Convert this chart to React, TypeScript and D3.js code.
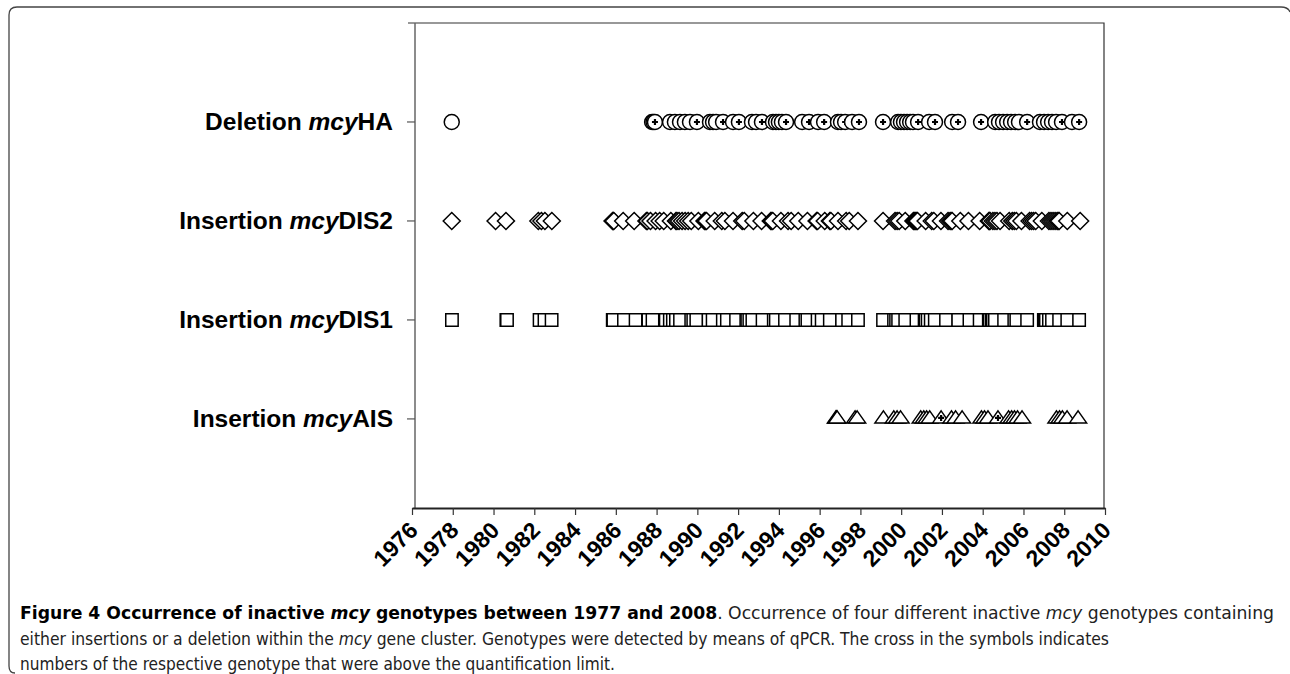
import { useEffect, useRef } from 'react';
import * as d3 from 'd3';

// rows from top to bottom; "mcy" is set in italics between prefix and suffix
const rowLevels = [4, 3, 2, 1];
const rowPrefixes = ['Deletion ', 'Insertion ', 'Insertion ', 'Insertion '];
const rowSuffixes = ['HA', 'DIS2', 'DIS1', 'AIS'];
const rowShapes = ['circle', 'diamond', 'square', 'triangle'];

const yearTicks = [1976, 1978, 1980, 1982, 1984, 1986, 1988, 1990, 1992, 1994, 1996, 1998, 2000, 2002, 2004, 2006, 2008, 2010];

// sampling dates (decimal years)
const deletionYears = [
  1977.95, 1987.78, 1987.85, 1988.66, 1988.9, 1989.15, 1989.39, 1989.64, 1990.62, 1990.77, 1990.92,
  1991.75, 1992.68, 1992.88, 1993.71, 1993.86, 1994.0, 1994.15, 1995.14, 1995.92, 1996.9, 1997.05,
  1997.59, 1999.85, 1999.99, 2000.14, 2000.29, 2000.44, 2000.58, 2001.37, 2002.5, 2004.61, 2004.8,
  2005.0, 2005.2, 2005.39, 2005.59, 2005.78, 2006.81, 2007.01, 2007.21, 2007.4, 2007.6, 2008.38,
];
const deletionCross = [
  1987.92, 1989.98, 1991.26, 1992.04, 1993.17, 1994.35, 1995.48, 1996.22, 1997.25, 1997.93, 1999.11,
  2000.83, 2001.66, 2002.79, 2003.92, 2006.18, 2007.89, 2008.73,
];
const dis2Years = [
  1977.95, 1980.1, 1980.61, 1982.2, 1982.35, 1982.52, 1982.86, 1985.84, 1985.87, 1985.9, 1986.36, 1986.9,
  1987.5, 1987.55, 1987.7, 1987.95, 1988.15, 1988.35, 1988.7, 1988.95, 1989.0, 1989.1, 1989.25, 1989.4,
  1989.55, 1989.7, 1990.05, 1990.35, 1990.4, 1990.45, 1990.85, 1991.2, 1991.35, 1991.75, 1992.2, 1992.3,
  1992.75, 1993.15, 1993.6, 1993.65, 1993.7, 1994.1, 1994.45, 1994.6, 1994.95, 1995.4, 1995.85, 1995.9,
  1996.25, 1996.5, 1996.55, 1996.9, 1997.3, 1997.45, 1997.88, 1999.11, 1999.7, 1999.8, 1999.9, 2000.2,
  2000.6, 2000.65, 2000.7, 2000.75, 2000.8, 2001.2, 2001.5, 2001.6, 2001.95, 2002.3, 2002.4, 2002.45,
  2002.5, 2002.9, 2003.3, 2003.85, 2004.3, 2004.33, 2004.36, 2004.5, 2004.6, 2004.7, 2004.85, 2005.3,
  2005.45, 2005.55, 2005.65, 2005.9, 2006.3, 2006.4, 2006.5, 2006.6, 2006.9, 2007.25, 2007.35, 2007.45,
  2007.55, 2007.65, 2007.7, 2007.75, 2008.15, 2008.78,
];
const dis1Years = [
  1977.96, 1980.63, 1980.66, 1982.26, 1982.5, 1982.85, 1985.85, 1985.88, 1986.4, 1986.97, 1987.6, 1987.8,
  1988.45, 1988.65, 1988.8, 1988.95, 1989.15, 1989.7, 1989.8, 1989.95, 1990.55, 1990.75, 1991.25, 1991.45,
  1991.9, 1992.4, 1992.45, 1992.55, 1992.7, 1993.2, 1993.75, 1993.85, 1994.3, 1994.85, 1995.3, 1995.4,
  1995.9, 1996.1, 1996.5, 1997.1, 1997.4, 1997.88, 1999.11, 1999.65, 1999.75, 1999.85, 2000.2, 2000.75,
  2001.15, 2001.2, 2001.3, 2001.45, 2001.65, 2002.2, 2002.8, 2003.35, 2003.85, 2004.3, 2004.35, 2004.45,
  2004.5, 2004.6, 2005.05, 2005.55, 2005.65, 2006.18, 2007.0, 2007.05, 2007.1, 2007.25, 2007.4, 2007.75,
  2008.15, 2008.73,
];
const aisYears = [
  1996.8, 1996.83, 1996.86, 1997.74, 1997.84, 1999.13, 1999.64, 1999.8, 1999.97, 2000.96, 2001.11,
  2001.25, 2001.4, 2002.47, 2002.67, 2002.99, 2003.94, 2004.09, 2004.26, 2005.27, 2005.42, 2005.56,
  2005.71, 2005.93, 2007.62, 2007.77, 2007.91, 2008.14, 2008.68,
];
const aisCross = [2001.96, 2004.75];

const rowPlain = [deletionYears, dis2Years, dis1Years, aisYears];
const rowCross = [deletionCross, [], [], aisCross];

const font = "'Liberation Sans', Arial, sans-serif";
const capFont = "'DejaVu Sans Condensed', 'Liberation Sans Narrow', Arial, sans-serif";

export default function App() {
  const svgRef = useRef<SVGSVGElement>(null);

  useEffect(() => {
    const svg = d3.select(svgRef.current);
    svg.selectAll('*').remove();

    const left = 415;
    const right = 1104;
    const top = 23;
    const bottom = 508;

    const x = d3.scaleLinear().domain([1976, 2010]).range([412, 1105]);
    const y = d3.scaleLinear().domain([0.1, 5]).range([bottom, top]);

    // outer frame of the figure
    svg
      .append('path')
      .attr('d', 'M15,673 Q9,673 9,666 L9,15 Q9,7 17,7 L1281,7 Q1288,7 1290,12')
      .attr('fill', 'none')
      .attr('stroke', '#444')
      .attr('stroke-width', 1.3);

    // plot area border
    svg
      .append('path')
      .attr('d', `M${left - 7},${top} L${right},${top} L${right},${bottom}`)
      .attr('fill', 'none')
      .attr('stroke', '#333')
      .attr('stroke-width', 1.2);

    // y axis
    svg
      .append('line')
      .attr('x1', left)
      .attr('x2', left)
      .attr('y1', top)
      .attr('y2', bottom)
      .attr('stroke', '#666')
      .attr('stroke-width', 1.5);
    svg
      .append('g')
      .selectAll('line')
      .data(rowLevels)
      .join('line')
      .attr('x1', left - 8)
      .attr('x2', left)
      .attr('y1', (d) => y(d))
      .attr('y2', (d) => y(d))
      .attr('stroke', '#555')
      .attr('stroke-width', 1.2);

    // row labels
    const labels = svg
      .append('g')
      .selectAll('text')
      .data(rowLevels)
      .join('text')
      .attr('x', 393)
      .attr('y', (d) => y(d) + 8)
      .attr('text-anchor', 'end')
      .attr('font-family', font)
      .attr('font-weight', 'bold')
      .attr('font-size', 24.5)
      .attr('fill', '#000');
    labels.append('tspan').text((d, i) => rowPrefixes[i]);
    labels.append('tspan').attr('font-style', 'italic').text('mcy');
    labels.append('tspan').text((d, i) => rowSuffixes[i]);

    // x axis
    const xAxis = d3
      .axisBottom(x)
      .tickValues(yearTicks)
      .tickSize(7)
      .tickSizeOuter(0)
      .tickFormat((d) => String(d));
    const xg = svg.append('g').attr('transform', `translate(0, ${bottom})`).call(xAxis);
    xg.select('.domain').attr('stroke', '#222').attr('stroke-width', 2);
    xg.selectAll('.tick line').attr('stroke', '#333').attr('stroke-width', 1.2);
    xg.selectAll('.tick text')
      .attr('font-family', font)
      .attr('font-weight', 'bold')
      .attr('font-size', 23)
      .attr('fill', '#000')
      .attr('text-anchor', 'end')
      .attr('dy', '0.35em')
      .attr('y', 0)
      .attr('transform', 'translate(1, 18) rotate(-45)');

    // markers
    const shapePath: Record<string, string> = {
      circle: 'M7.5,0 A7.5,7.5 0 1,1 -7.5,0 A7.5,7.5 0 1,1 7.5,0 Z',
      diamond: 'M0,-8.5 L8.5,0 L0,8.5 L-8.5,0 Z',
      square: 'M-6.2,-6.2 L6.2,-6.2 L6.2,6.2 L-6.2,6.2 Z',
      triangle: 'M0,-8 L8.5,4 L-8.5,4 Z',
    };
    const crossOffset: Record<string, number> = { circle: 0, diamond: 0, square: 0, triangle: -1 };

    rowLevels.forEach((level, i) => {
      const shape = rowShapes[i];
      const pts = [
        ...rowPlain[i].map((v) => ({ year: v, cross: false })),
        ...rowCross[i].map((v) => ({ year: v, cross: true })),
      ].sort((a, b) => a.year - b.year);
      const g = svg.append('g');
      const m = g
        .selectAll('g')
        .data(pts)
        .join('g')
        .attr('transform', (d) => `translate(${x(d.year)}, ${y(level)})`);
      m.append('path')
        .attr('d', shapePath[shape])
        .attr('fill', '#fff')
        .attr('stroke', '#000')
        .attr('stroke-width', 1.5);
      m.filter((d) => d.cross)
        .append('path')
        .attr('d', `M-3,${crossOffset[shape]} L3,${crossOffset[shape]} M0,${crossOffset[shape] - 3} L0,${crossOffset[shape] + 3}`)
        .attr('stroke', '#000')
        .attr('stroke-width', 2.2);
    });

    // caption
    const cap = svg.append('g').attr('font-family', capFont).attr('font-size', 17.5).attr('fill', '#222');
    const l1 = cap.append('text').attr('x', 20).attr('y', 619).attr('textLength', 1254).attr('lengthAdjust', 'spacingAndGlyphs');
    l1.append('tspan').attr('font-weight', 'bold').attr('fill', '#000').text('Figure 4 Occurrence of inactive ');
    l1.append('tspan').attr('font-weight', 'bold').attr('font-style', 'italic').attr('fill', '#000').text('mcy');
    l1.append('tspan').attr('font-weight', 'bold').attr('fill', '#000').text(' genotypes between 1977 and 2008');
    l1.append('tspan').text('. Occurrence of four different inactive ');
    l1.append('tspan').attr('font-style', 'italic').text('mcy');
    l1.append('tspan').text(' genotypes containing');
    const l2 = cap.append('text').attr('x', 20).attr('y', 645).attr('textLength', 1089).attr('lengthAdjust', 'spacingAndGlyphs');
    l2.append('tspan').text('either insertions or a deletion within the ');
    l2.append('tspan').attr('font-style', 'italic').text('mcy');
    l2.append('tspan').text(' gene cluster. Genotypes were detected by means of qPCR. The cross in the symbols indicates');
    cap.append('text')
      .attr('x', 20)
      .attr('y', 670)
      .attr('textLength', 595)
      .attr('lengthAdjust', 'spacingAndGlyphs')
      .text('numbers of the respective genotype that were above the quantification limit.');
  }, []);

  return (
    <svg
      ref={svgRef}
      width={1290}
      height={674}
      style={{ position: 'absolute', left: 0, top: 0, background: '#fff' }}
    />
  );
}
